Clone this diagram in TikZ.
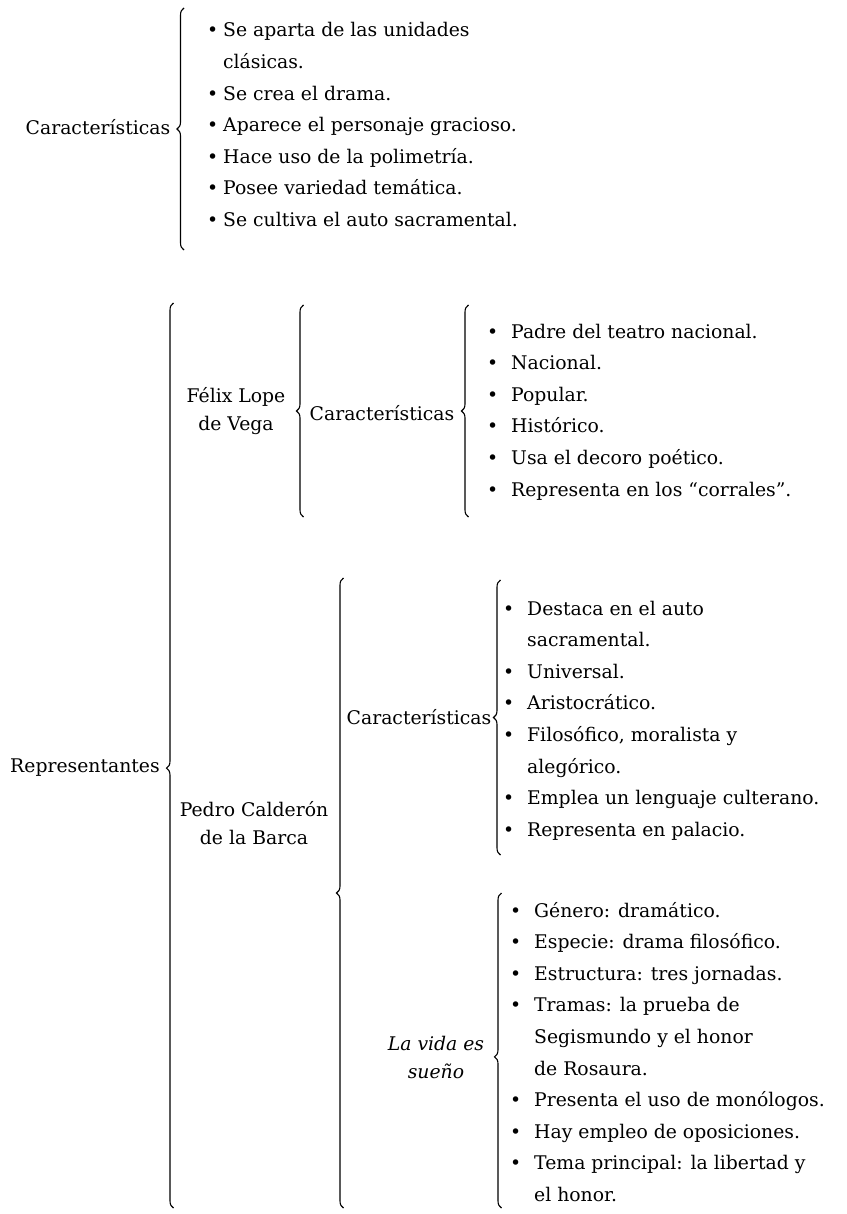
\documentclass[tikz,border=0pt]{standalone}
\usepackage{fontspec}
\setmainfont{DejaVu Serif}
\usetikzlibrary{decorations.pathreplacing}

\tikzset{
    llave/.style={decorate, decoration={brace, amplitude=7pt, aspect=#1}, line width=1.1pt},
    llave/.default=0.5,
    rasgo/.style={anchor=west, inner sep=0pt, text height=14pt, text depth=4pt},
    titulo/.style={align=center, inner sep=0pt}
}
\newcommand{\punto}[1][24pt]{\makebox[#1][l]{\textbullet}}
\newcommand{\sigue}[1][24pt]{\hspace*{#1}}

\begin{document}
\begin{tikzpicture}[x=1pt,y=-1pt,font=\fontsize{18.8}{28}\selectfont]
    \useasboundingbox (0,0) rectangle (846,1214);
    \node[titulo] (car0) at (98,127) {Características};
    \coordinate (b0a) at (184,8);
    \coordinate (b0b) at (184,250);
    \draw[llave] (b0b) -- (b0a);
    \foreach \t [count=\i] in {{\punto[16pt]Se aparta de las unidades},{\sigue[16pt]clásicas.},
        {\punto[16pt]Se crea el drama.},{\punto[16pt]Aparece el personaje gracioso.},
        {\punto[16pt]Hace uso de la polimetría.},{\punto[16pt]Posee variedad temática.},
        {\punto[16pt]Se cultiva el auto sacramental.}}
        \node[rasgo] (c0-\i) at (207,{32+31.6*(\i-1)}) {\t};

    \node[titulo] (rep) at (85,768) {Representantes};
    \coordinate (bRa) at (173.5,303);
    \coordinate (bRb) at (173.5,1208);
    \draw[llave=0.486] (bRb) -- (bRa);

    \node[titulo] (lope) at (236,411) {Félix Lope\\de Vega};
    \coordinate (bFa) at (303.5,305);
    \coordinate (bFb) at (303.5,517);
    \draw[llave] (bFb) -- (bFa);
    \node[titulo] (carF) at (382,413) {Características};
    \coordinate (bGa) at (468.5,305);
    \coordinate (bGb) at (468.5,517);
    \draw[llave] (bGb) -- (bGa);
    \foreach \t [count=\i] in {{\punto Padre del teatro nacional.},{\punto Nacional.},
        {\punto Popular.},{\punto Histórico.},{\punto Usa el decoro poético.},
        {\punto Representa en los “corrales”.}}
        \node[rasgo] (cF-\i) at (487,{333+31.6*(\i-1)}) {\t};

    \node[titulo] (cald) at (254,823) {Pedro Calderón\\de la Barca};
    \coordinate (bCa) at (343.5,578);
    \coordinate (bCb) at (343.5,1208);
    \draw[llave] (bCb) -- (bCa);
    \node[titulo] (carC) at (419,717) {Características};
    \coordinate (bDa) at (500.5,580);
    \coordinate (bDb) at (500.5,855);
    \draw[llave] (bDb) -- (bDa);
    \foreach \t [count=\i] in {{\punto Destaca en el auto},{\sigue sacramental.},
        {\punto Universal.},{\punto Aristocrático.},{\punto Filosófico, moralista y},
        {\sigue alegórico.},{\punto Emplea un lenguaje culterano.},
        {\punto Representa en palacio.}}
        \node[rasgo] (cC-\i) at (503,{610+31.6*(\i-1)}) {\t};

    \node[titulo] (vida) at (436,1057) {\textit{La vida es}\\\textit{sueño}};
    \coordinate (bVa) at (501.5,893);
    \coordinate (bVb) at (501.5,1208);
    \draw[llave=0.48] (bVb) -- (bVa);
    \foreach \t [count=\i] in {{\punto Género: dramático.},{\punto Especie: drama filosófico.},
        {\punto Estructura: tres jornadas.},{\punto Tramas: la prueba de},
        {\sigue Segismundo y el honor},{\sigue de Rosaura.},
        {\punto Presenta el uso de monólogos.},{\punto Hay empleo de oposiciones.},
        {\punto Tema principal: la libertad y},{\sigue el honor.}}
        \node[rasgo] (cV-\i) at (510,{912+31.6*(\i-1)}) {\t};
\end{tikzpicture}
\end{document}
